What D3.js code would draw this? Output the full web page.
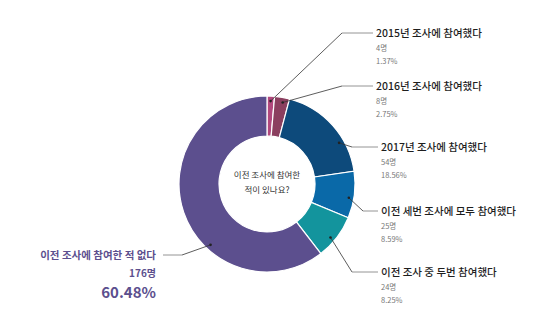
<!DOCTYPE html>
<html>
<head>
<meta charset="utf-8">
<script src="https://cdn.jsdelivr.net/npm/d3@7"></script>
<style>
  html, body { margin: 0; padding: 0; background: #fff; }
  svg { display: block; font-family: "Noto Sans CJK KR", "Noto Sans", sans-serif; }
</style>
</head>
<body>
<svg id="chart" width="534" height="324"></svg>
<script>
// Survey: "이전 조사에 참여한 적이 있나요?"
const categories = [
  "2015년 조사에 참여했다",
  "2016년 조사에 참여했다",
  "2017년 조사에 참여했다",
  "이전 세번 조사에 모두 참여했다",
  "이전 조사 중 두번 참여했다",
  "이전 조사에 참여한 적 없다"
];
const counts = [4, 8, 54, 25, 24, 176];
const percents = ["1.37%", "2.75%", "18.56%", "8.59%", "8.25%", "60.48%"];
const colors = ["#b2487d", "#8b3f5f", "#0d4a7b", "#0a69a8", "#13949d", "#5c4f8e"];
const centerLines = ["이전 조사에 참여한", "적이 있나요?"];

// Callout layout: where the leader starts inside the slice (fraction along its arc),
// the elbow point, and where the text block sits.
const callouts = [
  { frac: 0.5,  elbowX: 342, y: 33,  textX: 376, side: "right" },
  { frac: 0.6,  elbowX: 342, y: 86,  textX: 376, side: "right" },
  { frac: 0.68, elbowX: 352, y: 147, textX: 381, side: "right" },
  { frac: 0.58, elbowX: 363, y: 211, textX: 381, side: "right" },
  { frac: 0.59, elbowX: 352, y: 272, textX: 381, side: "right" },
  { frac: 0.37, elbowX: 182, y: 255, textX: 156, side: "left" }
];

const svg = d3.select("#chart");
const cx = 267, cy = 184, rOuter = 88, rInner = 48, rAnchor = 83;

const pie = d3.pie().sort(null).value(d => d)(counts);
const arc = d3.arc().innerRadius(rInner).outerRadius(rOuter);

const g = svg.append("g").attr("transform", `translate(${cx},${cy})`);

g.selectAll("path.slice")
  .data(pie)
  .join("path")
  .attr("class", "slice")
  .attr("d", arc)
  .attr("fill", (d, i) => colors[i])
  .attr("stroke", "#fff")
  .attr("stroke-width", 1.2);

// center question
g.selectAll("text.center")
  .data(centerLines)
  .join("text")
  .attr("class", "center")
  .attr("x", 0)
  .attr("y", (d, i) => -9 + i * 15)
  .attr("dy", "0.35em")
  .attr("text-anchor", "middle")
  .attr("font-size", 8.5)
  .attr("fill", "#333")
  .text(d => d);

// leader lines and labels
const ann = svg.append("g");
pie.forEach((p, i) => {
  const c = callouts[i];
  const a = p.startAngle + (p.endAngle - p.startAngle) * c.frac;
  const ax = cx + rAnchor * Math.sin(a);
  const ay = cy - rAnchor * Math.cos(a);
  const endX = c.side === "right" ? c.textX - 3 : c.textX + 7;

  ann.append("line")
    .attr("x1", ax).attr("y1", ay).attr("x2", c.elbowX).attr("y2", c.y)
    .attr("stroke", "#333").attr("stroke-width", 0.8);
  ann.append("line")
    .attr("x1", c.elbowX).attr("y1", c.y).attr("x2", endX).attr("y2", c.y)
    .attr("stroke", "#888").attr("stroke-width", 0.9);
  ann.append("circle")
    .attr("cx", ax).attr("cy", ay).attr("r", 1.3).attr("fill", "#222");

  if (c.side === "right") {
    ann.append("text")
      .attr("x", c.textX).attr("y", c.y).attr("dy", "0.35em")
      .attr("font-size", 10.5).attr("font-weight", 500).attr("fill", "#1e1e1e")
      .text(categories[i]);
    ann.append("text")
      .attr("x", c.textX).attr("y", c.y + 15).attr("dy", "0.35em")
      .attr("font-size", 7.5).attr("fill", "#777")
      .text(counts[i] + "명");
    ann.append("text")
      .attr("x", c.textX).attr("y", c.y + 28).attr("dy", "0.35em")
      .attr("font-size", 7.5).attr("fill", "#777")
      .text(percents[i]);
  } else {
    ann.append("text")
      .attr("x", c.textX).attr("y", c.y).attr("dy", "0.35em")
      .attr("text-anchor", "end")
      .attr("font-size", 10.5).attr("font-weight", 700).attr("fill", colors[i])
      .text(categories[i]);
    ann.append("text")
      .attr("x", c.textX).attr("y", c.y + 18).attr("dy", "0.35em")
      .attr("text-anchor", "end")
      .attr("font-size", 10).attr("font-weight", 700).attr("fill", colors[i])
      .text(counts[i] + "명");
    ann.append("text")
      .attr("x", c.textX).attr("y", c.y + 38).attr("dy", "0.35em")
      .attr("text-anchor", "end")
      .attr("font-size", 15).attr("font-weight", 700).attr("fill", colors[i])
      .text(percents[i]);
  }
});
</script>
</body>
</html>
